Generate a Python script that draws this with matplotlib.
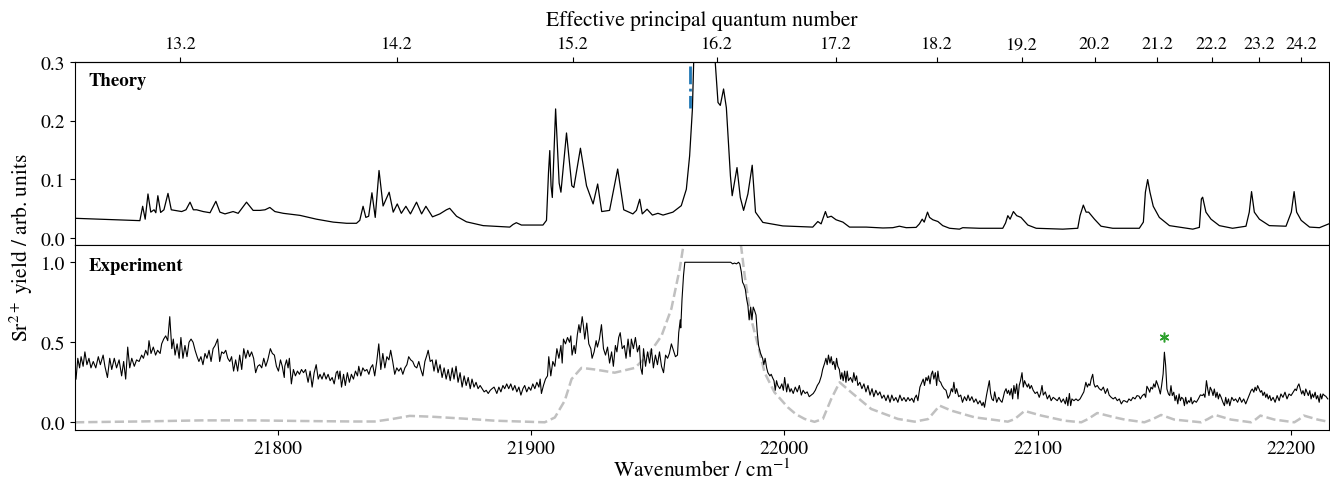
import matplotlib.pyplot as plt
import numpy as np

plt.rcParams['font.family'] = ['STIXGeneral', 'Liberation Serif', 'DejaVu Serif']
plt.rcParams['mathtext.fontset'] = 'stix'

# ---------- data ----------
# Theory (top panel): wavenumber / cm^-1 and Sr2+ yield
th_wn = [
    21720.0, 21745.6, 21746.7, 21747.7, 21748.8, 21749.9, 21751.2, 21751.9, 21752.7, 21753.8,
    21755.1, 21756.7, 21758.0, 21762.1, 21763.8, 21765.4, 21766.7, 21768.0, 21770.6, 21773.3,
    21775.6, 21777.2, 21779.2, 21782.4, 21784.4, 21787.7, 21790.3, 21793.0, 21795.0, 21796.9,
    21798.9, 21802.2, 21808.8, 21815.3, 21821.9, 21827.2, 21831.1, 21832.4, 21833.7, 21834.8,
    21835.9, 21837.2, 21838.5, 21840.0, 21841.6, 21844.0, 21845.6, 21847.2, 21848.8, 21850.6,
    21852.4, 21854.8, 21856.8, 21858.5, 21861.1, 21864.0, 21866.6, 21867.9, 21870.6, 21874.5,
    21881.1, 21891.6, 21892.9, 21894.2, 21896.2, 21904.7, 21906.1, 21906.9, 21907.4, 21907.9,
    21908.4, 21909.7, 21911.1, 21911.8, 21914.0, 21916.1, 21916.9, 21919.5, 21921.9, 21924.5,
    21926.3, 21927.9, 21931.0, 21934.2, 21936.6, 21940.2, 21941.6, 21942.9, 21943.9, 21945.8,
    21947.9, 21950.1, 21952.1, 21956.0, 21959.3, 21961.3, 21962.6, 21963.7, 21964.2, 21965.5,
    21967.5, 21970.0, 21972.0, 21972.7, 21973.8, 21974.7, 21976.0, 21977.1, 21978.7, 21979.4,
    21981.3, 21982.6, 21983.9, 21985.6, 21987.3, 21988.6, 21991.5, 21999.4, 22011.2, 22013.2,
    22014.5, 22016.2, 22017.0, 22018.5, 22020.4, 22023.1, 22025.7, 22032.3, 22038.9, 22042.8,
    22045.4, 22048.1, 22052.0, 22053.3, 22054.4, 22055.2, 22056.5, 22057.3, 22058.6, 22060.6,
    22062.5, 22065.2, 22069.1, 22070.4, 22077.0, 22086.2, 22087.3, 22088.2, 22089.1, 22090.4,
    22091.7, 22093.4, 22096.1, 22099.4, 22109.9, 22115.8, 22116.7, 22118.0, 22119.1, 22120.1,
    22122.4, 22125.0, 22129.6, 22140.1, 22141.7, 22142.5, 22143.4, 22144.3, 22145.6, 22148.0,
    22152.0, 22161.2, 22163.8, 22164.6, 22165.1, 22166.4, 22168.4, 22171.7, 22176.9, 22182.2,
    22183.5, 22184.4, 22185.5, 22187.5, 22191.4, 22198.0, 22200.1, 22201.2, 22202.2, 22204.0,
    22207.3, 22211.2, 22214.9,
]
th_yield = [
    0.0335, 0.0295, 0.054, 0.032, 0.075, 0.044, 0.048, 0.043, 0.072, 0.0435,
    0.048, 0.076, 0.048, 0.045, 0.048, 0.061, 0.048, 0.048, 0.045, 0.043,
    0.0625, 0.044, 0.041, 0.045, 0.042, 0.061, 0.047, 0.047, 0.048, 0.052,
    0.045, 0.042, 0.0385, 0.032, 0.027, 0.025, 0.025, 0.030, 0.054, 0.035,
    0.037, 0.077, 0.035, 0.115, 0.0545, 0.078, 0.044, 0.058, 0.042, 0.054,
    0.041, 0.061, 0.041, 0.054, 0.036, 0.041, 0.048, 0.0505, 0.037, 0.0275,
    0.021, 0.0185, 0.023, 0.026, 0.022, 0.022, 0.030, 0.112, 0.149, 0.089,
    0.069, 0.220, 0.0935, 0.078, 0.179, 0.089, 0.086, 0.153, 0.089, 0.058,
    0.092, 0.045, 0.047, 0.1175, 0.048, 0.041, 0.047, 0.066, 0.041, 0.049,
    0.039, 0.042, 0.039, 0.044, 0.055, 0.083, 0.140, 0.220, 0.300, 0.45,
    0.90, 0.70, 0.38, 0.300, 0.231, 0.226, 0.254, 0.222, 0.106, 0.072,
    0.120, 0.069, 0.047, 0.075, 0.124, 0.044, 0.0265, 0.0205, 0.0185, 0.028,
    0.024, 0.045, 0.035, 0.037, 0.031, 0.027, 0.0185, 0.0185, 0.017, 0.0175,
    0.020, 0.0175, 0.018, 0.024, 0.032, 0.027, 0.044, 0.035, 0.031, 0.028,
    0.021, 0.0165, 0.015, 0.0175, 0.0165, 0.0165, 0.0255, 0.038, 0.032, 0.045,
    0.038, 0.035, 0.022, 0.0165, 0.015, 0.0165, 0.038, 0.056, 0.044, 0.044,
    0.032, 0.020, 0.0165, 0.0165, 0.027, 0.078, 0.0995, 0.078, 0.054, 0.035,
    0.021, 0.015, 0.018, 0.0665, 0.0695, 0.044, 0.032, 0.021, 0.0165, 0.020,
    0.044, 0.079, 0.044, 0.032, 0.021, 0.020, 0.044, 0.079, 0.044, 0.030,
    0.0185, 0.0175, 0.024,
]

# Experiment (bottom panel), normalised Sr2+ yield
exp_wn = [
    21720.4, 21721.1, 21721.8, 21722.4, 21723.2, 21723.9, 21724.7, 21725.5, 21726.3, 21727.2,
    21728.2, 21729.2, 21730.0, 21731.1, 21731.8, 21732.8, 21733.7, 21734.5, 21735.5, 21736.4,
    21737.4, 21738.4, 21739.2, 21740.0, 21740.8, 21741.6, 21742.4, 21743.4, 21744.3, 21745.3,
    21746.3, 21747.0, 21747.9, 21748.7, 21749.2, 21750.0, 21750.9, 21751.8, 21752.6, 21753.6,
    21754.2, 21755.0, 21755.8, 21756.6, 21757.4, 21758.2, 21758.8, 21759.5, 21760.3, 21761.1,
    21761.8, 21762.6, 21763.4, 21764.2, 21765.0, 21765.8, 21766.6, 21767.4, 21768.2, 21768.9,
    21769.7, 21770.5, 21771.3, 21772.1, 21772.9, 21773.7, 21774.5, 21775.3, 21776.3, 21777.1,
    21777.9, 21778.7, 21779.5, 21780.3, 21781.1, 21781.8, 21782.6, 21783.4, 21784.2, 21785.0,
    21785.8, 21786.6, 21787.4, 21788.2, 21788.9, 21789.7, 21790.5, 21791.3, 21792.1, 21792.9,
    21793.7, 21794.5, 21795.3, 21796.1, 21797.1, 21797.9, 21798.7, 21799.5, 21800.3, 21801.1,
    21801.8, 21802.6,
    21802.8, 21803.5, 21804.1, 21804.6, 21805.4, 21806.2, 21807.0, 21807.8, 21808.6, 21809.4,
    21810.2, 21811.0, 21812.0, 21812.8, 21813.6, 21814.4, 21815.2, 21816.0, 21816.7, 21817.5,
    21818.3, 21819.1, 21819.9, 21820.7, 21821.5, 21822.3, 21823.1, 21823.6, 21824.1, 21824.6,
    21825.2, 21826.0, 21826.7, 21827.5, 21828.3, 21829.1, 21829.9, 21830.7, 21831.5, 21832.0,
    21832.8, 21833.6, 21834.4, 21835.2, 21836.0, 21836.7, 21837.5, 21838.3, 21839.1, 21839.9,
    21840.7, 21841.5, 21842.3, 21843.1, 21843.9, 21844.6, 21845.4, 21846.2, 21847.0, 21847.8,
    21848.6, 21849.4, 21850.2, 21851.0, 21851.7, 21852.5, 21853.3, 21854.1, 21854.9, 21855.7,
    21856.5, 21857.3, 21858.1, 21858.9, 21859.4, 21860.2, 21861.0, 21861.7, 21862.5, 21863.3,
    21864.1, 21864.9, 21865.7, 21866.5, 21867.3, 21868.1, 21868.9, 21869.6, 21870.4, 21871.2,
    21872.0, 21872.8, 21873.6, 21874.4, 21875.2, 21876.0, 21876.7, 21877.5, 21878.3, 21879.1,
    21879.9, 21880.7, 21881.5, 21882.3, 21883.1, 21883.9, 21884.6, 21885.4,
    21885.7, 21886.5, 21887.3, 21888.1, 21888.9, 21889.6, 21890.4, 21891.2, 21892.0, 21892.8,
    21893.6, 21894.4, 21895.2, 21896.0, 21896.8, 21897.5, 21898.3, 21899.1, 21899.9, 21900.7,
    21901.5, 21902.3, 21903.1, 21903.6, 21904.1, 21904.9, 21905.7, 21906.5, 21907.0, 21907.8,
    21908.6, 21909.4, 21910.2, 21911.0, 21911.8, 21912.3, 21912.8, 21913.6, 21914.4, 21915.2,
    21915.7, 21916.2, 21917.0, 21917.5, 21918.3, 21918.9, 21919.4, 21920.2, 21920.7, 21921.2,
    21922.0, 21922.8, 21923.6, 21924.1, 21924.9, 21925.7, 21926.2, 21927.0, 21927.8, 21928.6,
    21929.4, 21930.2, 21931.0, 21931.8, 21932.5, 21933.3, 21933.9, 21934.6, 21935.2, 21936.0,
    21936.8, 21937.5, 21938.3, 21939.1, 21939.6, 21940.4, 21941.2, 21942.0, 21942.8, 21943.3,
    21943.9, 21944.4, 21945.2, 21946.0, 21946.8, 21947.5, 21948.3, 21949.1, 21949.9, 21950.7,
    21951.5, 21952.3, 21953.1, 21953.9, 21954.6, 21955.4, 21956.2, 21957.0, 21957.8, 21958.3,
    21958.9, 21959.1, 21959.6, 21960.2, 21960.7,
    21968.5, 21978.8, 21979.6, 21980.3, 21981.1, 21981.9, 21982.4, 21983.0, 21983.5, 21984.0,
    21984.6, 21985.1, 21985.6, 21986.1, 21986.7, 21987.2, 21987.7, 21988.2, 21988.8, 21989.3,
    21989.8, 21990.6, 21991.4, 21991.9, 21992.4, 21993.0, 21993.5, 21994.3, 21994.8, 21995.3,
    21995.9, 21996.4, 21996.9, 21997.4, 21998.2, 21999.0, 21999.6, 22000.1, 22000.9, 22001.4,
    22002.2, 22002.7, 22003.5, 22004.3, 22005.1, 22005.9, 22006.7, 22007.4, 22008.2, 22009.0,
    22009.8, 22010.6, 22011.4, 22012.2, 22013.0, 22013.8, 22014.6, 22015.1, 22015.9, 22016.4,
    22016.9, 22017.4, 22018.0, 22018.5, 22019.0, 22019.5, 22020.1, 22020.6, 22021.1, 22021.7,
    22022.2, 22022.7, 22023.2, 22023.8, 22024.3, 22024.8, 22025.3, 22026.1, 22026.9, 22027.4,
    22028.0, 22028.5, 22029.0, 22029.8, 22030.6, 22031.4, 22032.2, 22033.0, 22033.8, 22034.6,
    22035.3, 22036.1, 22036.9, 22037.7, 22038.5, 22039.3, 22040.1, 22040.9, 22041.7, 22042.4,
    22043.2, 22044.0, 22044.8, 22045.6, 22046.4, 22047.2, 22048.0, 22048.8, 22049.5, 22050.3,
    22051.1,
    22051.4, 22052.1, 22052.7, 22053.5, 22054.3, 22054.8, 22055.3, 22055.9, 22056.4, 22056.9,
    22057.5, 22058.0, 22058.5, 22059.0, 22059.6, 22060.1, 22060.6, 22061.1, 22061.7, 22062.2,
    22063.0, 22063.8, 22064.6, 22065.3, 22065.9, 22066.4, 22066.9, 22067.5, 22068.0, 22068.8,
    22069.6, 22070.3, 22071.1, 22071.9, 22072.5, 22073.2, 22074.0, 22074.8, 22075.6, 22076.4,
    22077.2, 22078.0, 22078.5, 22079.0, 22079.8, 22080.3, 22080.9, 22081.4, 22081.9, 22082.5,
    22083.0, 22083.8, 22084.6, 22085.3, 22085.9, 22086.4, 22086.9, 22087.5, 22088.0, 22088.5,
    22089.0, 22089.6, 22090.1, 22090.6, 22091.1, 22091.7, 22092.2, 22092.7, 22093.2, 22093.8,
    22094.3, 22094.8, 22095.3, 22095.9, 22096.4, 22096.9, 22097.5, 22098.2, 22099.0, 22099.8,
    22100.6, 22101.1, 22101.7, 22102.2, 22103.0, 22103.8, 22104.6, 22105.3, 22106.1, 22106.9,
    22107.7, 22108.5, 22109.3, 22110.1, 22110.9, 22111.4, 22111.9, 22112.5, 22113.0, 22113.5,
    22114.3, 22115.1, 22115.9, 22116.7, 22117.5, 22118.2, 22119.0, 22119.6, 22120.1, 22120.6,
    22121.1, 22121.7, 22122.2, 22122.7, 22123.5, 22124.3, 22125.1, 22125.9, 22126.7, 22127.5,
    22128.2, 22129.0, 22129.8, 22130.6, 22131.4, 22132.2, 22133.0, 22133.8,
    22134.2, 22135.3, 22136.0, 22136.8, 22137.6, 22138.4, 22139.2, 22140.0, 22140.5, 22141.3,
    22142.1, 22142.6, 22143.1, 22143.7, 22144.2, 22144.7, 22145.3, 22145.8, 22146.3, 22146.8,
    22147.4, 22147.9, 22148.4, 22148.9, 22149.5, 22150.0, 22150.5, 22151.0, 22151.6, 22152.1,
    22152.6, 22153.1, 22153.7, 22154.2, 22154.7, 22155.3, 22155.8, 22156.3, 22156.8, 22157.4,
    22157.9, 22158.4, 22158.9, 22159.5, 22160.0, 22160.5, 22161.0, 22161.8, 22162.6, 22163.4,
    22164.2, 22165.0, 22165.5, 22166.0, 22166.6, 22167.1, 22167.6, 22168.1, 22168.7, 22169.2,
    22169.7, 22170.3, 22170.8, 22171.3, 22171.8, 22172.4, 22173.1, 22173.7, 22174.2, 22174.7,
    22175.3, 22175.8, 22176.6, 22177.4, 22178.1, 22178.9, 22179.7, 22180.5, 22181.3, 22182.1,
    22182.9, 22183.7, 22184.2, 22184.7, 22185.3, 22185.8, 22186.3, 22186.8, 22187.4, 22187.9,
    22188.4, 22188.9, 22189.5, 22190.0, 22190.5, 22191.0, 22191.6, 22192.1, 22192.9, 22193.7,
    22194.5, 22195.3, 22196.0, 22196.8, 22197.6, 22198.4, 22199.2, 22200.0, 22200.8, 22201.6,
    22202.1, 22202.6, 22203.1, 22203.7, 22204.2, 22204.7, 22205.3, 22205.8, 22206.3, 22206.8,
    22207.4, 22207.9, 22208.4, 22208.9, 22209.5, 22210.0, 22210.5, 22211.1, 22211.6, 22212.1,
    22212.6, 22213.2, 22213.7, 22214.5,
]
exp_yield = [
    0.27, 0.40, 0.34, 0.41, 0.35, 0.44, 0.36, 0.40, 0.34, 0.38,
    0.34, 0.41, 0.36, 0.42, 0.35, 0.28, 0.40, 0.33, 0.40, 0.34,
    0.39, 0.29, 0.38, 0.27, 0.47, 0.34, 0.40, 0.35, 0.39, 0.38,
    0.42, 0.40, 0.45, 0.42, 0.51, 0.43, 0.47, 0.42, 0.45, 0.43,
    0.49, 0.52, 0.54, 0.51, 0.66, 0.46, 0.52, 0.42, 0.49, 0.40,
    0.53, 0.40, 0.48, 0.41, 0.50, 0.52, 0.50, 0.45, 0.41, 0.38,
    0.41, 0.36, 0.43, 0.40, 0.45, 0.38, 0.46, 0.48, 0.52, 0.38,
    0.44, 0.43, 0.45, 0.40, 0.38, 0.41, 0.32, 0.39, 0.32, 0.42,
    0.33, 0.46, 0.40, 0.45, 0.41, 0.44, 0.40, 0.31, 0.35, 0.36,
    0.34, 0.40, 0.35, 0.39, 0.46, 0.43, 0.42, 0.35, 0.32, 0.39,
    0.35, 0.28,
    0.35, 0.39, 0.34, 0.40, 0.24, 0.33, 0.29, 0.32, 0.30, 0.33,
    0.31, 0.33, 0.25, 0.32, 0.22, 0.31, 0.36, 0.27, 0.30, 0.27,
    0.31, 0.27, 0.30, 0.26, 0.28, 0.24, 0.31, 0.32, 0.27, 0.32,
    0.22, 0.30, 0.23, 0.31, 0.25, 0.30, 0.27, 0.32, 0.29, 0.35,
    0.29, 0.34, 0.32, 0.33, 0.30, 0.34, 0.36, 0.29, 0.38, 0.49,
    0.33, 0.43, 0.34, 0.41, 0.39, 0.45, 0.38, 0.30, 0.34, 0.32,
    0.34, 0.30, 0.34, 0.36, 0.41, 0.39, 0.38, 0.35, 0.34, 0.38,
    0.33, 0.29, 0.38, 0.42, 0.45, 0.38, 0.39, 0.32, 0.39, 0.31,
    0.36, 0.28, 0.34, 0.27, 0.33, 0.26, 0.34, 0.27, 0.35, 0.25,
    0.31, 0.22, 0.29, 0.23, 0.28, 0.21, 0.27, 0.22, 0.25, 0.21,
    0.23, 0.21, 0.19, 0.20, 0.18, 0.20, 0.21, 0.22,
    0.21, 0.18, 0.22, 0.19, 0.23, 0.21, 0.24, 0.21, 0.24, 0.20,
    0.23, 0.19, 0.22, 0.17, 0.21, 0.23, 0.19, 0.22, 0.20, 0.24,
    0.21, 0.25, 0.22, 0.27, 0.18, 0.23, 0.27, 0.29, 0.41, 0.29,
    0.38, 0.35, 0.46, 0.40, 0.48, 0.37, 0.52, 0.49, 0.53, 0.50,
    0.54, 0.42, 0.48, 0.43, 0.55, 0.61, 0.56, 0.66, 0.60, 0.52,
    0.62, 0.49, 0.46, 0.40, 0.44, 0.51, 0.47, 0.52, 0.61, 0.46,
    0.42, 0.47, 0.37, 0.44, 0.35, 0.48, 0.44, 0.53, 0.56, 0.46,
    0.48, 0.40, 0.52, 0.41, 0.52, 0.46, 0.53, 0.44, 0.48, 0.34,
    0.30, 0.46, 0.35, 0.44, 0.37, 0.46, 0.34, 0.42, 0.36, 0.44,
    0.35, 0.31, 0.42, 0.40, 0.43, 0.49, 0.45, 0.41, 0.42, 0.56,
    0.64, 0.59, 0.77, 0.92, 1.00,
    1.00, 1.00, 0.99, 0.995, 0.99, 1.00, 0.99, 0.94, 0.875, 0.86,
    0.83, 0.77, 0.73, 0.64, 0.72, 0.64, 0.72, 0.70, 0.67, 0.56,
    0.48, 0.43, 0.40, 0.36, 0.40, 0.34, 0.31, 0.29, 0.30, 0.28,
    0.26, 0.20, 0.26, 0.23, 0.21, 0.24, 0.20, 0.28, 0.19, 0.24,
    0.19, 0.21, 0.18, 0.22, 0.19, 0.23, 0.17, 0.20, 0.18, 0.19,
    0.16, 0.17, 0.18, 0.20, 0.23, 0.25, 0.29, 0.33, 0.37, 0.40,
    0.36, 0.42, 0.37, 0.41, 0.36, 0.38, 0.33, 0.40, 0.35, 0.33,
    0.27, 0.31, 0.26, 0.32, 0.25, 0.32, 0.26, 0.28, 0.25, 0.31,
    0.26, 0.29, 0.23, 0.25, 0.21, 0.24, 0.19, 0.23, 0.17, 0.21,
    0.16, 0.20, 0.17, 0.19, 0.15, 0.17, 0.135, 0.17, 0.125, 0.17,
    0.135, 0.155, 0.125, 0.17, 0.135, 0.155, 0.13, 0.155, 0.135, 0.15,
    0.125,
    0.15, 0.17, 0.135, 0.22, 0.25, 0.27, 0.23, 0.28, 0.26, 0.29,
    0.24, 0.30, 0.32, 0.27, 0.31, 0.23, 0.32, 0.26, 0.25, 0.23,
    0.21, 0.20, 0.15, 0.17, 0.21, 0.19, 0.25, 0.18, 0.21, 0.16,
    0.17, 0.125, 0.16, 0.135, 0.17, 0.135, 0.16, 0.125, 0.146, 0.115,
    0.135, 0.104, 0.125, 0.094, 0.17, 0.21, 0.26, 0.18, 0.146, 0.135,
    0.19, 0.125, 0.156, 0.135, 0.125, 0.156, 0.19, 0.21, 0.18, 0.20,
    0.17, 0.21, 0.146, 0.23, 0.18, 0.24, 0.146, 0.23, 0.26, 0.31,
    0.22, 0.26, 0.24, 0.22, 0.24, 0.21, 0.23, 0.20, 0.18, 0.19,
    0.156, 0.18, 0.23, 0.17, 0.19, 0.146, 0.17, 0.135, 0.156, 0.146,
    0.135, 0.156, 0.125, 0.146, 0.115, 0.156, 0.104, 0.18, 0.104, 0.146,
    0.135, 0.146, 0.135, 0.146, 0.17, 0.19, 0.25, 0.22, 0.24, 0.23,
    0.27, 0.30, 0.24, 0.22, 0.23, 0.21, 0.20, 0.22, 0.18, 0.21,
    0.17, 0.156, 0.146, 0.156, 0.135, 0.146, 0.115, 0.135,
    0.135, 0.125, 0.146, 0.135, 0.156, 0.146, 0.167, 0.163, 0.146, 0.167,
    0.177, 0.156, 0.225, 0.208, 0.188, 0.219, 0.208, 0.24, 0.219, 0.26,
    0.234, 0.208, 0.177, 0.229, 0.302, 0.438, 0.354, 0.208, 0.177, 0.167,
    0.229, 0.167, 0.188, 0.135, 0.167, 0.115, 0.177, 0.135, 0.156, 0.146,
    0.104, 0.156, 0.115, 0.135, 0.125, 0.156, 0.115, 0.135, 0.125, 0.146,
    0.171, 0.167, 0.177, 0.156, 0.26, 0.208, 0.167, 0.219, 0.198, 0.167,
    0.208, 0.156, 0.188, 0.146, 0.177, 0.156, 0.125, 0.104, 0.156, 0.115,
    0.146, 0.104, 0.156, 0.135, 0.146, 0.125, 0.156, 0.125, 0.146, 0.115,
    0.146, 0.177, 0.198, 0.208, 0.188, 0.219, 0.198, 0.229, 0.208, 0.188,
    0.198, 0.167, 0.188, 0.156, 0.177, 0.146, 0.167, 0.135, 0.156, 0.125,
    0.167, 0.135, 0.177, 0.156, 0.188, 0.146, 0.177, 0.167, 0.188, 0.208,
    0.198, 0.225, 0.24, 0.204, 0.177, 0.198, 0.167, 0.208, 0.188, 0.167,
    0.198, 0.146, 0.177, 0.156, 0.188, 0.146, 0.167, 0.125, 0.177, 0.146,
    0.177, 0.167, 0.163, 0.146,
]

# Convolved theory overlaid on the experiment (grey dashed)
conv_wn = [
    21720.0, 21745.0, 21770.0, 21790.0, 21810.0, 21830.0, 21838.3, 21845.0, 21852.1, 21860.7,
    21876.5, 21885.7, 21905.4, 21909.4, 21913.3, 21916.0, 21919.9, 21925.2, 21933.0, 21941.0,
    21946.2, 21951.5, 21955.4, 21958.7, 21960.0, 21962.0, 21975.0, 21981.0, 21983.0, 21984.3,
    21986.9, 21989.6, 21992.2, 21996.1, 22001.4, 22004.6, 22008.0, 22011.9, 22015.2, 22018.5,
    22021.8, 22026.4, 22034.3, 22044.8, 22051.4, 22056.7, 22061.3, 22065.9, 22075.1, 22088.2,
    22090.9, 22094.8, 22101.4, 22110.6, 22117.2, 22119.8, 22123.5, 22130.3, 22134.3, 22142.1,
    22145.4, 22148.7, 22153.9, 22164.5, 22167.1, 22170.0, 22176.3, 22184.2, 22186.2, 22187.9,
    22193.4, 22201.3, 22203.3, 22205.0, 22210.5, 22214.5,
]
conv_yield = [
    0.0, 0.005, 0.012, 0.012, 0.008, 0.005, 0.005, 0.02, 0.04, 0.035,
    0.02, 0.01, 0.0, 0.03, 0.135, 0.27, 0.34, 0.33, 0.31, 0.34,
    0.42, 0.54, 0.71, 0.96, 1.09, 1.3, 2.0, 1.3, 1.09, 0.92,
    0.645, 0.48, 0.31, 0.187, 0.093, 0.05, 0.021, 0.003, 0.021, 0.146,
    0.25, 0.187, 0.083, 0.021, 0.004, 0.02, 0.104, 0.073, 0.031, 0.004,
    0.02, 0.071, 0.042, 0.01, 0.0, 0.02, 0.058, 0.031, 0.017, 0.0,
    0.02, 0.046, 0.017, 0.0, 0.02, 0.046, 0.017, 0.0, 0.02, 0.042,
    0.017, 0.0, 0.02, 0.042, 0.017, 0.004,
]

# effective principal quantum number axis (Rydberg series)
n_ticks = [13.2, 14.2, 15.2, 16.2, 17.2, 18.2, 19.2, 20.2, 21.2, 22.2, 23.2, 24.2]
n_labels = ['13.2', '14.2', '15.2', '16.2', '17.2', '18.2', '19.2', '20.2', '21.2', '22.2', '23.2', '24.2']
RYD = 109736.6      # cm^-1
IP = 22391.4        # series limit, cm^-1

# blue marker line in theory panel, green asterisk in experiment panel
mark_wn, mark_top, mark_bot = 21962.6, 0.294, 0.222
star_wn, star_y = 22149.7, 0.535


def wn_to_n(wn):
    return np.sqrt(RYD / np.clip(IP - np.asarray(wn, dtype=float), 1e-3, None))


def n_to_wn(n):
    n = np.clip(np.asarray(n, dtype=float), 1e-3, None)
    return IP - RYD / n**2


fig = plt.figure(figsize=(13.3, 4.81), dpi=100)
ax_th = fig.add_axes([0.0564, 0.4886, 0.9429, 0.3804])
ax_ex = fig.add_axes([0.0564, 0.1040, 0.9429, 0.3846], sharex=ax_th)

# ---------- theory ----------
ax_th.plot(th_wn, th_yield, color='black', lw=0.9)
ax_th.plot([mark_wn, mark_wn], [mark_top, mark_bot], color='#1f77b4', ls='-.', lw=2)
ax_th.set_ylim(-0.012, 0.3)
ax_th.set_yticks([0.0, 0.1, 0.2, 0.3])
ax_th.tick_params(bottom=False, labelbottom=False, labelsize=14)
ax_th.text(0.0105, 0.9, 'Theory', transform=ax_th.transAxes, fontsize=13.5,
           fontweight='bold', va='center', ha='left')

secax = ax_th.secondary_xaxis('top', functions=(wn_to_n, n_to_wn))
secax.set_xticks(n_ticks)
secax.set_xticklabels(n_labels)
secax.tick_params(labelsize=13)
secax.set_xlabel('Effective principal quantum number', fontsize=15.5, labelpad=8)

# ---------- experiment ----------
ax_ex.plot(conv_wn, conv_yield, color='silver', ls='--', lw=1.8)
ax_ex.plot(exp_wn, exp_yield, color='black', lw=0.8)
ax_ex.plot(star_wn, star_y, marker=(6, 2, 0), ms=7, mew=1.1, color='#2ca02c', ls='none')
ax_ex.set_ylim(-0.048, 1.108)
ax_ex.set_yticks([0.0, 0.5, 1.0])
ax_ex.set_xlim(21720, 22215)
ax_ex.set_xticks([21800, 21900, 22000, 22100, 22200])
ax_ex.tick_params(labelsize=14)
ax_ex.set_xlabel('Wavenumber / cm$^{-1}$', fontsize=15.5, labelpad=1)
ax_ex.text(0.0105, 0.89, 'Experiment', transform=ax_ex.transAxes, fontsize=13.5,
           fontweight='bold', va='center', ha='left')

fig.text(0.016, 0.486, 'Sr$^{2+}$ yield / arb. units', rotation=90,
         va='center', ha='center', fontsize=15.5)

plt.savefig('out.png', dpi=100)
